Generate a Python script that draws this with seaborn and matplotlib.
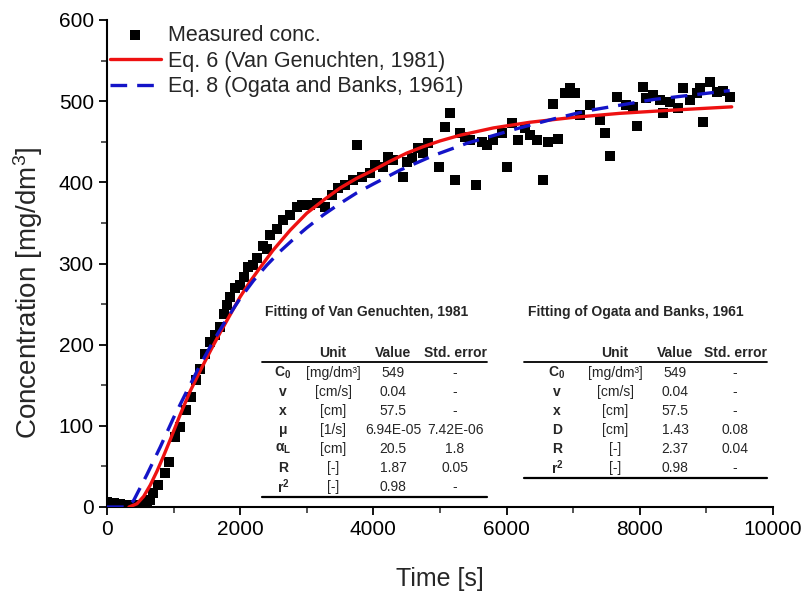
import matplotlib
matplotlib.use("Agg")
import matplotlib.pyplot as plt
from matplotlib.ticker import MultipleLocator
from matplotlib.lines import Line2D
import seaborn as sns

# measured concentration
meas_t = [0, 50, 100, 150, 200, 250, 300, 350, 400, 450, 500, 550, 600,
          645, 690, 765, 870, 930, 1020, 1095, 1185, 1260, 1330, 1400, 1470,
          1545, 1620, 1690, 1750, 1800, 1850, 1920, 2000, 2060, 2120, 2190,
          2250, 2345, 2400, 2450, 2550, 2640, 2750, 2850, 2930, 3050, 3150,
          3270, 3380, 3470, 3570, 3690, 3750, 3830, 3950, 4020, 4140, 4220,
          4300, 4440, 4500, 4580, 4670, 4750, 4820, 4990, 5070, 5150, 5225,
          5300, 5380, 5450, 5540, 5630, 5705, 5800, 5930, 6005, 6080, 6170,
          6280, 6350, 6460, 6550, 6620, 6700, 6770, 6870, 6950, 7030, 7100,
          7250, 7400, 7480, 7550, 7660, 7800, 7900, 7960, 8050, 8100, 8200,
          8300, 8350, 8450, 8570, 8650, 8750, 8860, 8900, 8950, 9050, 9160,
          9250, 9350]
meas_c = [6, 5, 5, 4, 4, 3, 3, 3, 2, 3, 3, 4, 6,
          9, 17, 27, 42, 55, 86, 99, 119, 136, 157, 170, 188,
          203, 212, 222, 238, 249, 259, 270, 273, 283, 296, 298,
          307, 322, 318, 335, 343, 353, 360, 369, 372, 372, 374,
          370, 384, 393, 397, 403, 446, 406, 411, 421, 419, 431,
          428, 406, 425, 430, 442, 436, 448, 419, 468, 485, 403,
          461, 456, 452, 397, 450, 446, 452, 461, 419, 473, 452,
          467, 458, 452, 403, 450, 497, 454, 510, 516, 510, 483,
          495, 477, 461, 433, 505, 495, 493, 470, 517, 504, 507,
          501, 485, 499, 491, 516, 501, 510, 516, 474, 523, 511,
          513, 505]

# Eq. 6 (Van Genuchten) curve
vg_t = [330, 450, 550, 650, 750, 850, 950, 1100, 1245, 1400, 1550, 1700,
        1850, 2000, 2150, 2300, 2490, 2750, 3000, 3250, 3500, 3750, 4000,
        4250, 4500, 4750, 5000, 5300, 5800, 6350, 7000, 7700, 8500, 9380]
vg_c = [0, 4, 13, 27, 44, 63, 83, 114, 142, 168, 192, 215,
        237, 259, 278, 295, 316, 341, 362, 378, 393, 405, 415,
        426, 436, 444, 451, 458, 467, 474, 480, 485, 489, 493]

# Eq. 8 (Ogata and Banks) curve
ob_t = [0, 300, 400, 500, 600, 800, 1000, 1200, 1400, 1600, 1800, 2000,
        2200, 2400, 2600, 2800, 3000, 3250, 3500, 3750, 4000, 4400, 4900,
        5400, 6150, 6700, 7200, 8200, 9350]
ob_c = [0, 0, 8, 24, 40, 74, 110, 143, 175, 205, 232, 257,
        279, 298, 315, 330, 344, 360, 374, 387, 398, 415, 433,
        448, 466, 478, 488, 502, 513]

# fitting tables
vg_title = "Fitting of Van Genuchten, 1981"
vg_sym = [r"$\mathbf{C_0}$", "v", "x", "μ", r"$\mathbf{\alpha_L}$", "R", r"$\mathbf{r^2}$"]
vg_unit = ["[mg/dm³]", "[cm/s]", "[cm]", "[1/s]", "[cm]", "[-]", "[-]"]
vg_val = ["549", "0.04", "57.5", "6.94E-05", "20.5", "1.87", "0.98"]
vg_err = ["-", "-", "-", "7.42E-06", "1.8", "0.05", "-"]

ob_title = "Fitting of Ogata and Banks, 1961"
ob_sym = [r"$\mathbf{C_0}$", "v", "x", "D", "R", r"$\mathbf{r^2}$"]
ob_unit = ["[mg/dm³]", "[cm/s]", "[cm]", "[cm]", "[-]", "[-]"]
ob_val = ["549", "0.04", "57.5", "1.43", "2.37", "0.98"]
ob_err = ["-", "-", "-", "0.08", "0.04", "-"]

headers = ["Unit", "Value", "Std. error"]

sns.set_style("ticks")
plt.rcParams['font.family'] = ['Liberation Sans', 'DejaVu Sans']
plt.rcParams['mathtext.fontset'] = 'custom'
plt.rcParams['mathtext.rm'] = 'Liberation Sans'
plt.rcParams['mathtext.bf'] = 'Liberation Sans:bold'
plt.rcParams['mathtext.it'] = 'Liberation Sans:italic'

W, H = 806, 596
fig = plt.figure(figsize=(W / 100, H / 100), dpi=100)
ax = fig.add_axes([107 / W, 1 - 507 / H, (773 - 107) / W, (507 - 20) / H])

sns.scatterplot(x=meas_t, y=meas_c, marker="s", s=58, color="black",
                linewidth=0, label="Measured conc.", ax=ax, zorder=2)
sns.lineplot(x=vg_t, y=vg_c, color="#ee1111", lw=2.4,
             label="Eq. 6 (Van Genuchten, 1981)", ax=ax, zorder=3)
sns.lineplot(x=ob_t, y=ob_c, color="#1414c8", lw=2.4, linestyle=(0, (5, 3)),
             label="Eq. 8 (Ogata and Banks, 1961)", ax=ax, zorder=3)

ax.set_xlim(0, 10000)
ax.set_ylim(0, 600)
ax.xaxis.set_major_locator(MultipleLocator(2000))
ax.xaxis.set_minor_locator(MultipleLocator(1000))
ax.yaxis.set_major_locator(MultipleLocator(100))
ax.yaxis.set_minor_locator(MultipleLocator(50))
ax.tick_params(which="major", direction="out", length=6, width=1.3, labelsize=15, colors="black")
ax.tick_params(which="minor", direction="out", length=4, width=1.1)
sns.despine(ax=ax)
for s in ["left", "bottom"]:
    ax.spines[s].set_linewidth(1.5)
    ax.spines[s].set_color("black")

ax.set_xlabel("Time [s]", fontsize=18, labelpad=20)
ax.set_ylabel("Concentration [mg/dm$^3$]", fontsize=20)
ax.yaxis.set_label_coords(-0.093, 0.44)

handles, labels = ax.get_legend_handles_labels()
order = [labels.index("Measured conc."), labels.index("Eq. 6 (Van Genuchten, 1981)"),
         labels.index("Eq. 8 (Ogata and Banks, 1961)")]
ax.legend([handles[i] for i in order], [labels[i] for i in order],
          loc="upper left", bbox_to_anchor=(0.004, 0.99), frameon=False,
          fontsize=15.5, handlelength=2.4, handletextpad=0.3, labelspacing=0.22,
          borderpad=0, borderaxespad=0, scatterpoints=1)


def fx(x):
    return x / W


def fy(y):
    return 1 - y / H


def draw_table(title, sym, unit, val, err, x_title, cols, x0, x1):
    fig.text(fx(x_title), fy(312), title, fontsize=10, fontweight="bold", va="center", ha="left")
    for c, h in zip(cols[1:], headers):
        fig.text(fx(c), fy(353), h, fontsize=10, fontweight="bold", ha="center", va="center")
    fig.add_artist(Line2D([fx(x0), fx(x1)], [fy(362), fy(362)], color="black", lw=1.3))
    for i in range(len(sym)):
        y = 373 + 19 * i
        fig.text(fx(cols[0]), fy(y), sym[i], fontsize=10, fontweight="bold", ha="center", va="center")
        fig.text(fx(cols[1]), fy(y), unit[i], fontsize=10, ha="center", va="center")
        fig.text(fx(cols[2]), fy(y), val[i], fontsize=10, ha="center", va="center")
        fig.text(fx(cols[3]), fy(y), err[i], fontsize=10, ha="center", va="center")
    yb = 373 + 19 * (len(sym) - 1) + 10
    fig.add_artist(Line2D([fx(x0), fx(x1)], [fy(yb), fy(yb)], color="black", lw=1.6))


draw_table(vg_title, vg_sym, vg_unit, vg_val, vg_err, 265, [283, 333, 393, 455], 262, 487)
draw_table(ob_title, ob_sym, ob_unit, ob_val, ob_err, 528, [557, 615, 675, 735], 524, 767)

fig.savefig("out.png", dpi=100)
